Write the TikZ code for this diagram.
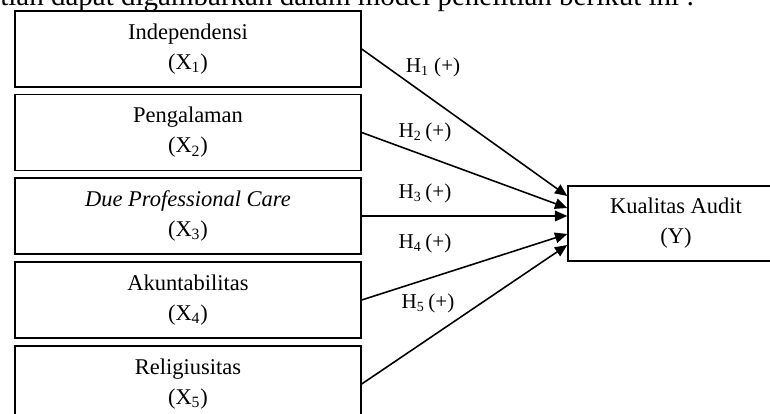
\documentclass[tikz,border=0pt]{standalone}
\usepackage{fontspec}
\setmainfont{Liberation Serif}
\usetikzlibrary{arrows.meta, calc}

\begin{document}
\begin{tikzpicture}[
  varbox/.style={draw, line width=0.8pt, minimum width=6.92cm, minimum height=1.52cm, align=center, inner sep=0pt, font=\fontsize{12.8}{17}\selectfont},
  hyp/.style={-{Triangle[length=7pt, width=6pt]}, line width=0.9pt},
  hlabel/.style={inner sep=0pt, font=\fontsize{12}{14}\selectfont}
]
  \useasboundingbox (0, 0) rectangle (15.4, 8.28);

  \node[anchor=base west, inner sep=0pt, font=\fontsize{16.5}{20}\selectfont] (intro) at (0, 8.16) {tian dapat digambarkan dalam model penelitian berikut ini :};

  \node[varbox] (x1) at (3.76, 7.30) {Independensi\\(X\textsubscript{1})};
  \node[varbox] (x2) at (3.76, 5.63) {Pengalaman\\(X\textsubscript{2})};
  \node[varbox] (x3) at (3.76, 3.96) {\textit{Due Professional Care}\\(X\textsubscript{3})};
  \node[varbox] (x4) at (3.76, 2.28) {Akuntabilitas\\(X\textsubscript{4})};
  \node[varbox] (x5) at (3.76, 0.60) {Religiusitas\\(X\textsubscript{5})};

  \node[varbox, minimum width=4.32cm, minimum height=1.50cm] (y) at (13.52, 3.81) {Kualitas Audit\\(Y)};

  \draw[hyp] (x1.east) -- ($(y.west)+(0, 0.55)$);
  \draw[hyp] (x2.east) -- ($(y.west)+(0, 0.31)$);
  \draw[hyp] (x3.east) -- (x3.east -| y.west);
  \draw[hyp] (x4.east) -- ($(y.west)+(0, -0.21)$);
  \draw[hyp] (x5.east) -- ($(y.west)+(0, -0.43)$);

  \node[hlabel] (h1) at (8.66, 6.94) {H\textsubscript{1} (+)};
  \node[hlabel] (h2) at (8.50, 5.64) {H\textsubscript{2}\,(+)};
  \node[hlabel] (h3) at (8.50, 4.42) {H\textsubscript{3}\,(+)};
  \node[hlabel] (h4) at (8.50, 3.42) {H\textsubscript{4}\,(+)};
  \node[hlabel] (h5) at (8.56, 2.22) {H\textsubscript{5}\,(+)};
\end{tikzpicture}
\end{document}
